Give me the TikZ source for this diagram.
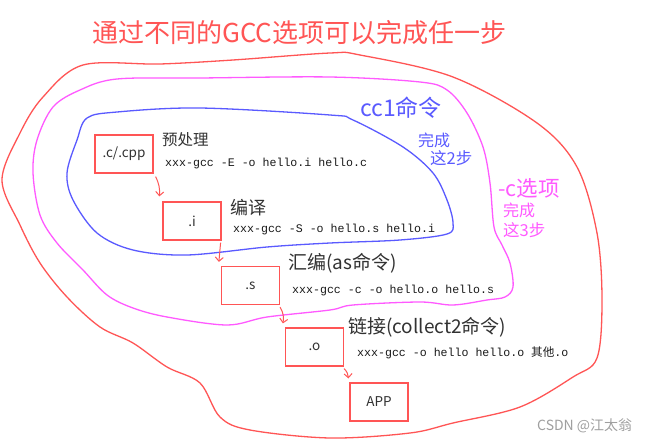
\documentclass[tikz,border=0pt]{standalone}
\usepackage{fontspec}
\setmonofont{Liberation Mono}
\newfontfamily\hand{Noto Sans CJK SC}
\usetikzlibrary{arrows.meta}
\definecolor{hred}{RGB}{255,85,85}
\definecolor{hmag}{RGB}{255,90,255}
\definecolor{hblue}{RGB}{90,90,255}
\definecolor{htext}{RGB}{50,50,50}
\begin{document}
\begin{tikzpicture}[x=1pt,y=-1pt,
  box/.style={draw=hred, line width=1.2pt, minimum width=58pt, minimum height=38pt, inner sep=0pt, font=\hand\fontsize{13.5}{13.5}\selectfont, text=htext},
  cmd/.style={anchor=west, inner sep=0pt, font=\ttfamily\fontsize{11.6}{12}\selectfont, text=black!90},
  lbl/.style={anchor=west, inner sep=0pt, text=htext},
  note/.style={anchor=west, inner sep=0pt},
  arr/.style={draw=hred, line width=1pt, -{Straight Barb[length=4pt,width=8pt]}},
  curve/.style={line width=1.3pt}
]
\useasboundingbox[fill=white] (0,0) rectangle (651,442);

% outer red region
\draw[hred, curve] plot[smooth cycle, tension=0.55] coordinates {
 (83,65) (160,64) (233,60) (330,53) (360,55) (453,77) (537,123) (577,167)
 (597,233) (602,300) (597,358) (573,377) (520,407) (453,423) (410,433)
 (330,438) (250,430) (220,417) (200,383) (167,367) (133,343) (100,327)
 (67,297) (40,263) (20,225) (2,180) (20,133) (43,97)};

% magenta region
\draw[hmag, curve] plot[smooth cycle, tension=0.55] coordinates {
 (117,79) (200,78) (330,77) (420,82) (447,90) (467,113) (483,147) (490,183)
 (494,227) (502,245) (510,263) (513,287) (505,297) (487,300) (453,305)
 (420,302) (353,305) (330,310) (267,317) (227,325) (167,317) (133,308)
 (107,295) (83,270) (57,243) (40,215) (33,173) (37,140) (53,107) (80,90)};

% blue region
\draw[hblue, curve] plot[smooth cycle, tension=0.55] coordinates {
 (87,118) (117,112) (200,108) (330,115) (353,120) (403,147) (433,173)
 (447,200) (453,223) (447,234) (400,240) (330,243) (267,247) (187,255)
 (133,250) (97,233) (73,200) (67,173) (77,140)};

% title
\node[note, text=hred, font=\hand\fontsize{26}{26}\selectfont] (title) at (92,33) {通过不同的GCC选项可以完成任一步};

% boxes
\node[box] (b1) at (124,154) {.c/.cpp};
\node[box] (b2) at (192,221) {.i};
\node[box] (b3) at (250.5,285.5) {.s};
\node[box] (b4) at (314.5,347) {.o};
\node[box] (b5) at (379,402) {APP};

% arrows
\draw[arr] ([xshift=2pt,yshift=-3pt]b1.south east) to[bend left=15] ([xshift=-3pt,yshift=5pt]b2.north west);
\draw[arr] ([xshift=-1pt,yshift=-2pt]b2.south east) -- ([xshift=-2pt,yshift=4pt]b3.north west);
\draw[arr] ([xshift=0pt,yshift=-2pt]b3.south east) to[bend left=20] ([xshift=-2pt,yshift=4pt]b4.north west);
\draw[arr] ([xshift=0pt,yshift=-2pt]b4.south east) to[bend left=20] ([xshift=-1pt,yshift=4pt]b5.north west);

% labels and commands
\node[lbl, font=\hand\fontsize{15.5}{15.5}\selectfont] (l1) at (162,140) {预处理};
\node[cmd] (c1) at (165,163) {xxx-gcc -E -o hello.i hello.c};
\node[lbl, font=\hand\fontsize{18}{18}\selectfont] (l2) at (230,208) {编译};
\node[cmd] (c2) at (233,229) {xxx-gcc -S -o hello.s hello.i};
\node[lbl, font=\hand\fontsize{19}{19}\selectfont] (l3) at (288,263) {汇编(as命令)};
\node[cmd] (c3) at (292,290) {xxx-gcc -c -o hello.o hello.s};
\node[lbl, font=\hand\fontsize{19}{19}\selectfont] (l4) at (348,327) {链接(collect2命令)};
\node[cmd] (c4) at (357,353) {xxx-gcc -o hello hello.o {\hand 其他}.o};

% blue notes
\node[note, text=hblue, font=\hand\fontsize{23}{23}\selectfont] (n1) at (360,108) {cc1命令};
\node[note, text=hblue, font=\hand\fontsize{16}{16}\selectfont] (n2) at (418,140) {完成};
\node[note, text=hblue, font=\hand\fontsize{16.5}{16.5}\selectfont] (n3) at (430,158) {这2步};

% magenta notes
\node[note, text=hmag, font=\hand\fontsize{21.5}{21.5}\selectfont] (m1) at (498,188) {-c选项};
\node[note, text=hmag, font=\hand\fontsize{16}{16}\selectfont] (m2) at (503,210) {完成};
\node[note, text=hmag, font=\hand\fontsize{16.5}{16.5}\selectfont] (m3) at (503,230) {这3步};

% watermark
\node[note, text=gray!75, font=\hand\fontsize{14}{14}\selectfont] (wm) at (537,426) {CSDN @江太翁};
\end{tikzpicture}
\end{document}
